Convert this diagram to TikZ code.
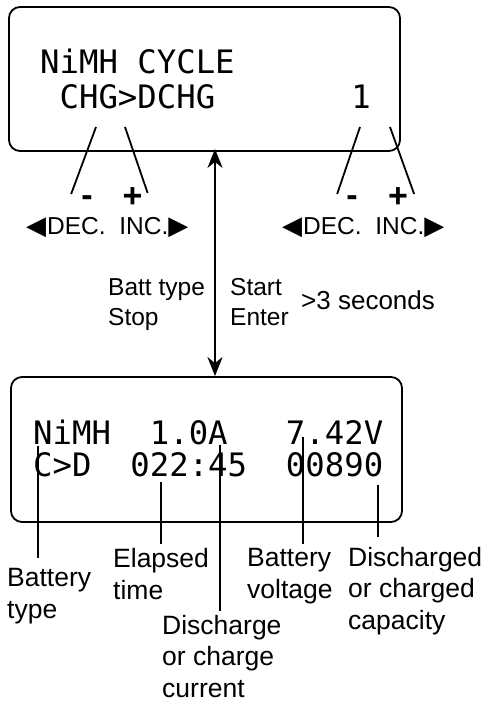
\documentclass[tikz,border=0pt]{standalone}
\usepackage{fontspec}
\setmainfont{Liberation Sans}
\newfontfamily\lcdfamily{DejaVu Sans Mono}
\newfontfamily\trifamily{DejaVu Sans}
\usepackage{tikz}
\usetikzlibrary{arrows.meta,positioning}

\newcommand{\lcdfont}{\lcdfamily\fontsize{32.3}{35}\selectfont}
\newcommand{\trileft}{{\trifamily\fontsize{26}{26}\selectfont ◀}\hspace{1pt}}
\newcommand{\triright}{{\trifamily\fontsize{26}{26}\selectfont ▶}}

\begin{document}
\begin{tikzpicture}[
    x=1pt, y=-1pt,
    display/.style={rectangle, draw=black, line width=1.8pt, rounded corners=11pt, minimum width=391pt, minimum height=144pt, inner sep=0pt},
    screen/.style={font=\lcdfont, anchor=base west, inner sep=0pt},
    keyrow/.style={font=\fontsize{24.5}{29.5}\selectfont, anchor=base west, inner sep=0pt},
    sign/.style={font=\fontsize{34}{34}\selectfont\bfseries, inner sep=0pt},
    note/.style={font=\fontsize{26.5}{31.5}\selectfont, anchor=base west, align=left, inner xsep=0pt, inner ysep=4pt},
    leader/.style={line width=1.8pt},
    arrow/.style={line width=2.2pt, >={Stealth[length=19pt,width=15pt,inset=6pt]}, <->}
]
\useasboundingbox (0,0) rectangle (493,706);

% Displays
\node[display] (menu) at (204.5,79) {};
\node[display, minimum height=145pt] (run) at (206.5,449.5) {};

\node[screen] (menu1) at (40,74) {NiMH CYCLE};
\node[screen] (menu2) at (40,109) {~CHG>DCHG~~~~~~~1};
\node[screen] (run1) at (33,444) {NiMH~~1.0A~~~7.42V};
\node[screen] (run2) at (33,476) {C>D~~022:45~~00890};

% Keys
\node[sign] (decA) at (87,201) {-};
\node[sign] (incA) at (132.5,197.5) {+};
\node[sign] (decB) at (352,201) {-};
\node[sign] (incB) at (398,198) {+};
\node[keyrow] (keysA) at (26,234) {\trileft DEC.\ \ INC.\triright};
\node[keyrow] (keysB) at (282,234) {\trileft DEC.\ \ INC.\triright};

\node[keyrow, align=left] (stop) at (108,325) {Batt type\\Stop};
\node[keyrow, align=left] (start) at (230,325) {Start\\Enter};
\node[keyrow, font=\fontsize{26}{30}\selectfont] (hold) at (301,309) {>3 seconds};

% Field labels
\node[note] (btype) at (7,618) {Battery\\type};
\node[note] (etime) at (113,599) {Elapsed\\time};
\node[note] (amps) at (162,697) {Discharge\\or charge\\current};
\node[note] (volts) at (247,598) {Battery\\voltage};
\node[note] (mah) at (348,629) {Discharged\\or charged\\capacity};

% Leader points
\coordinate (pdecA) at (96,127);
\coordinate (pincA) at (125,127);
\coordinate (pdecB) at (360,127);
\coordinate (pincB) at (390,127);
\coordinate (pbtype) at (38,446);
\coordinate (petime) at (161,482);
\coordinate (pamps) at (220,445);
\coordinate (pvolts) at (303,437);
\coordinate (pmah) at (378,485);
\coordinate (axis) at (215,0);

% Leaders
\draw[leader] (pdecA) -- ([xshift=-10pt,yshift=7pt]decA.west);
\draw[leader] (pincA) -- ([xshift=5pt,yshift=4.5pt]incA.east);
\draw[leader] (pdecB) -- ([xshift=-9pt,yshift=7pt]decB.west);
\draw[leader] (pincB) -- ([xshift=6pt,yshift=4pt]incB.east);

\draw[leader, shorten >=6pt] (pbtype) -- (btype.north -| pbtype);
\draw[leader] (petime) -- (etime.north -| petime);
\draw[leader] (pamps) -- (amps.north -| pamps);
\draw[leader] (pvolts) -- (volts.north -| pvolts);
\draw[leader, shorten >=6pt] (pmah) -- (mah.north -| pmah);

% Arrows
\draw[arrow] ([yshift=3pt]menu.south -| axis) -- (run.north -| axis);

\end{tikzpicture}
\end{document}
